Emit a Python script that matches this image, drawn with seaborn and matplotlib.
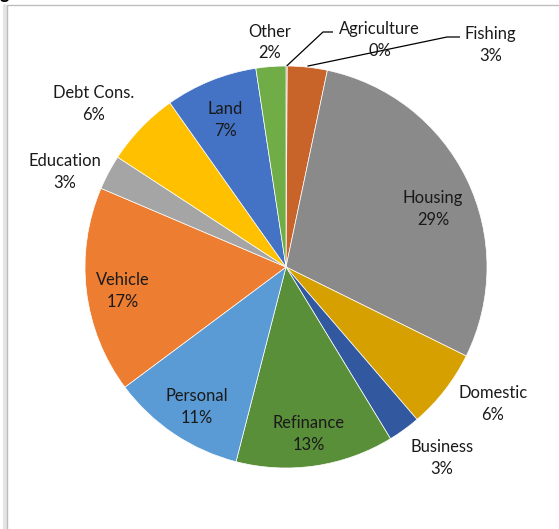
import numpy as np
import matplotlib
matplotlib.use("Agg")
import matplotlib.pyplot as plt
from matplotlib.lines import Line2D
import seaborn as sns

# Loan purpose breakdown (share of portfolio, %)
categories = ["Agriculture", "Fishing", "Housing", "Domestic", "Business", "Refinance",
              "Personal", "Vehicle", "Education", "Debt Cons.", "Land", "Other"]
shares = [0.1, 3.2, 29.0, 6.4, 2.6, 12.7, 10.8, 16.6, 2.8, 6.0, 7.4, 2.4]
colors = ["#B85A24", "#C8642A", "#8A8A8A", "#D6A000", "#3259A0", "#5A8F3A",
          "#5B9BD5", "#ED7D31", "#A5A5A5", "#FFC000", "#4472C4", "#70AD47"]

sns.set_theme(style="white")
plt.rcParams["font.family"] = ["Lato", "DejaVu Sans"]

W, H = 559, 529
fig = plt.figure(figsize=(W / 100, H / 100), dpi=100)
ax = fig.add_axes([0, 0, 1, 1])

cx, cy, R = 286, H - 267, 201

wedges, _ = ax.pie(shares, colors=colors, startangle=90, counterclock=False,
                   center=(cx, cy), radius=R,
                   wedgeprops=dict(edgecolor="white", linewidth=0.5))
ax.set_xlim(0, W)
ax.set_ylim(0, H)
ax.set_aspect("equal")
ax.axis("off")

# label placement: radial distance (in radii) and angular nudge (deg) per slice
label_r = [1.23, 1.51, 0.79, 1.23, 1.22, 0.83, 0.82, 0.82, 1.20, 1.26, 0.80, 1.13]
label_nudge = [22.1, 36.2, 3.6, -4.6, -3.5, 0.6, -0.9, -0.9, -4.4, -3.2, -0.3, 0.3]
label_drop = 2  # small downward shift of the two-line labels

total = sum(shares)
cum = np.cumsum([0] + shares[:-1])
mids = [(c + s / 2) / total * 360 for c, s in zip(cum, shares)]

txt_color = "#1A1A1A"
for name, s, mid, rf, nd in zip(categories, shares, mids, label_r, label_nudge):
    th = np.deg2rad(mid + nd)
    x = cx + rf * R * np.sin(th)
    y = cy + rf * R * np.cos(th) - label_drop
    ax.text(x, y, f"{name}\n{s / total * 100:.0f}%", ha="center", va="center",
            fontsize=11.9, color=txt_color, linespacing=1.45)

# leader lines for the two narrow slices at the top
def edge_point(mid_deg):
    th = np.deg2rad(mid_deg)
    return cx + R * np.sin(th), cy + R * np.cos(th)

ax0 = edge_point(mids[0])
ax.plot([ax0[0], 323, 333], [ax0[1], H - 32, H - 32], color="black", lw=0.9,
        solid_capstyle="butt")
fx0 = edge_point(mids[1])
ax.plot([fx0[0], 447, 460], [fx0[1] + 1, H - 37, H - 37], color="black", lw=0.9,
        solid_capstyle="butt")

# chart frame (top and left edges with a soft shadow)
fig.add_artist(Line2D([5 / W, 5 / W], [0, 1 - 6 / H], transform=fig.transFigure,
                      color="#E4E4E4", lw=3))
fig.add_artist(Line2D([7 / W, 7 / W], [0, 1 - 5 / H], transform=fig.transFigure,
                      color="#BDBDBD", lw=1))
fig.add_artist(Line2D([7 / W, 1], [1 - 5 / H, 1 - 5 / H], transform=fig.transFigure,
                      color="#BDBDBD", lw=1))

# tail of the heading line above the chart
fig.text(0 / W, 1 + 1 / H, "g", fontsize=13, fontweight="bold", color="black",
         ha="left", va="baseline")

fig.savefig("out.png", dpi=100)
